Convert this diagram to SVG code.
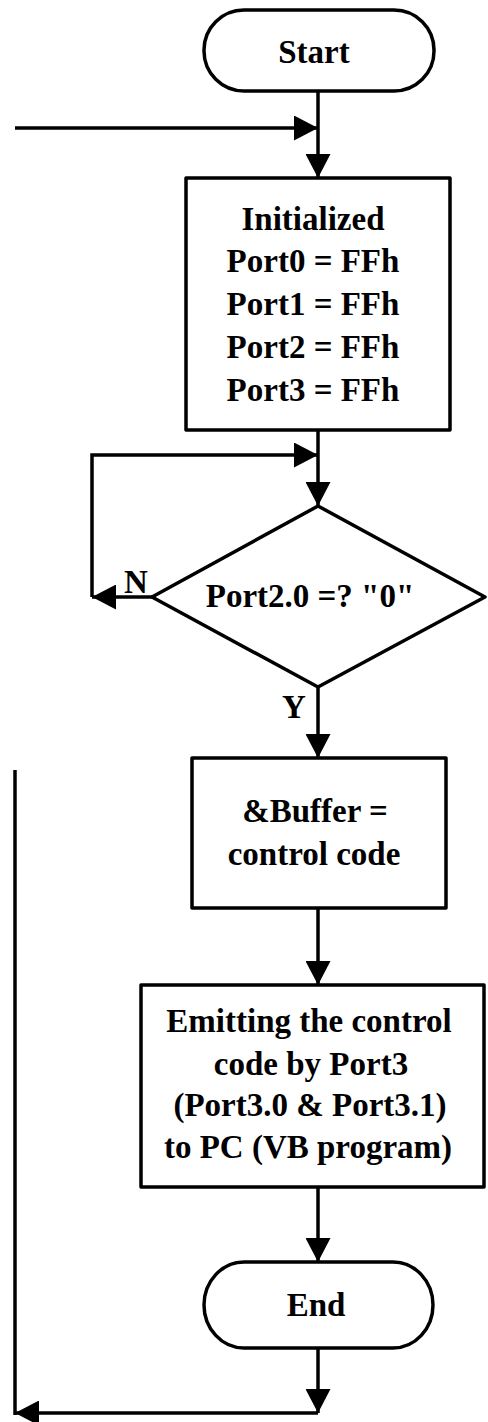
<svg xmlns="http://www.w3.org/2000/svg" width="488" height="1422" viewBox="0 0 488 1422">
<style>
.shape{fill:#fff;stroke:#000;stroke-width:3.5;stroke-linejoin:round}
.ln{fill:none;stroke:#000;stroke-width:3.5}
.t{font-family:"Liberation Serif","Times New Roman",serif;font-weight:bold;font-size:33px;fill:#000;text-anchor:middle}
</style>
<defs>
<marker id="ah" markerUnits="userSpaceOnUse" markerWidth="25" markerHeight="25" refX="24" refY="12.5" orient="auto">
<path d="M0,0 L24,12.5 L0,25 z" fill="#000"/>
</marker>
</defs>
<rect width="488" height="1422" fill="#fff"/>
<g id="connectors">
<path class="ln" d="M318,91 V178" marker-end="url(#ah)"/>
<path class="ln" d="M15,128 H318" marker-end="url(#ah)"/>
<path class="ln" d="M318,430 V506" marker-end="url(#ah)"/>
<path class="ln" d="M152,597 H92" marker-end="url(#ah)"/>
<path class="ln" d="M92,597 V455 H318" marker-end="url(#ah)"/>
<path class="ln" d="M318,687 V758" marker-end="url(#ah)"/>
<path class="ln" d="M318,908 V985" marker-end="url(#ah)"/>
<path class="ln" d="M318,1187 V1262" marker-end="url(#ah)"/>
<path class="ln" d="M318,1348 V1413" marker-end="url(#ah)"/>
<path class="ln" d="M318,1413 H15" marker-end="url(#ah)"/>
<path class="ln" d="M15,1415 V770"/>
<text class="t" x="136" y="593">N</text>
<text class="t" x="294" y="718">Y</text>
</g>
<g id="start">
<rect class="shape" x="204" y="10" width="230" height="81" rx="40" ry="40"/>
<text class="t" x="314" y="63">Start</text>
</g>
<g id="init">
<rect class="shape" x="186" y="178" width="264" height="252"/>
<text class="t" x="313" y="230">Initialized</text>
<text class="t" x="313" y="272">Port0 = FFh</text>
<text class="t" x="313" y="315">Port1 = FFh</text>
<text class="t" x="313" y="358">Port2 = FFh</text>
<text class="t" x="313" y="401">Port3 = FFh</text>
</g>
<g id="decision">
<polygon class="shape" points="318,506 485,597 318,687 152,597"/>
<text class="t" x="310" y="607">Port2.0 =? "0"</text>
</g>
<g id="buffer">
<rect class="shape" x="192" y="758" width="254" height="150"/>
<text class="t" x="315" y="822">&amp;Buffer =</text>
<text class="t" x="314" y="865">control code</text>
</g>
<g id="emit">
<rect class="shape" x="141" y="985" width="343" height="202"/>
<text class="t" x="309" y="1032">Emitting the control</text>
<text class="t" x="311" y="1075">code by Port3</text>
<text class="t" x="310" y="1116">(Port3.0 &amp; Port3.1)</text>
<text class="t" x="308" y="1158">to PC (VB program)</text>
</g>
<g id="end">
<rect class="shape" x="204" y="1262" width="229" height="86" rx="40" ry="43"/>
<text class="t" x="316" y="1316">End</text>
</g>
</svg>
